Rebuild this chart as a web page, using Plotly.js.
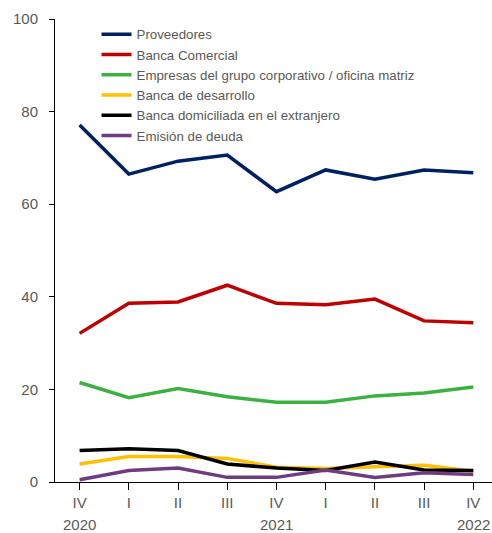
<!DOCTYPE html>
<html>
<head>
<meta charset="utf-8">
<script src="https://cdn.plot.ly/plotly-3.0.1.min.js"></script>
<style>html,body{margin:0;padding:0;background:#fff;}#chart{width:492px;height:533px;}</style>
</head>
<body>
<div id="chart"></div>
<script>
const quarters = ["IV", "I", "II", "III", "IV", "I", "II", "III", "IV"];
const years = ["2020", "", "", "", "2021", "", "", "", "2022"];
const proveedores = [77.1, 66.5, 69.3, 70.6, 62.7, 67.4, 65.4, 67.4, 66.8];
const bancaComercial = [32.1, 38.6, 38.9, 42.5, 38.6, 38.3, 39.5, 34.8, 34.4];
const empresasGrupo = [21.5, 18.2, 20.2, 18.4, 17.2, 17.2, 18.6, 19.2, 20.5];
const bancaDesarrollo = [3.9, 5.5, 5.5, 5.1, 3.2, 2.9, 3.3, 3.6, 2.3];
const bancaExtranjero = [6.8, 7.2, 6.8, 3.9, 3.0, 2.5, 4.3, 2.6, 2.5];
const emisionDeuda = [0.5, 2.5, 3.0, 1.0, 1.0, 2.6, 1.0, 2.0, 1.6];

const seriesNames = ["Proveedores", "Banca Comercial", "Empresas del grupo corporativo / oficina matriz",
  "Banca de desarrollo", "Banca domiciliada en el extranjero", "Emisión de deuda"];
const seriesValues = [proveedores, bancaComercial, empresasGrupo, bancaDesarrollo, bancaExtranjero, emisionDeuda];
const colors = ["#002060", "#C00000", "#3BB143", "#FFC000", "#000000", "#6F3C7F"];

const idx = quarters.map((_, i) => i);
const traces = seriesValues.map((vals, k) => ({
  x: idx, y: vals, name: seriesNames[k], type: "scatter", mode: "lines",
  line: {color: colors[k], width: 3.5}
}));

const font = "Liberation Sans, Arial, sans-serif";
const annotations = years.map((yr, i) => yr ? {
  x: i, y: 0, xref: "x", yref: "paper", yshift: -42, text: yr, showarrow: false,
  font: {family: font, size: 15, color: "#595959"},
  xanchor: "center", yanchor: "middle"
} : null).filter(a => a);

const layout = {
  width: 492, height: 533,
  margin: {l: 55, r: 0, t: 19, b: 51},
  paper_bgcolor: "#fff", plot_bgcolor: "#fff",
  showlegend: true,
  legend: {x: 0.095, y: 1.0, xanchor: "left", yanchor: "top", bgcolor: "rgba(0,0,0,0)",
    font: {family: font, size: 13.3, color: "#595959"},
    tracegroupgap: 0, itemwidth: 30},
  xaxis: {
    range: [-0.5, 8.38], tickmode: "array", tickvals: idx, ticktext: quarters,
    tickson: "boundaries", ticks: "outside", ticklen: 7, tickcolor: "#000",
    showline: true, linecolor: "#000", linewidth: 1, showgrid: false, zeroline: false,
    tickfont: {family: font, size: 15, color: "#595959"}
  },
  yaxis: {
    range: [0, 100], tickvals: [0, 20, 40, 60, 80, 100],
    ticks: "outside", ticklen: 5, tickcolor: "#000", ticklabelstandoff: 8,
    showline: true, linecolor: "#000", linewidth: 1, showgrid: false, zeroline: false,
    tickfont: {family: font, size: 15, color: "#595959"}
  },
  annotations: annotations
};

Plotly.newPlot("chart", traces, layout, {displayModeBar: false, staticPlot: true});
</script>
</body>
</html>
